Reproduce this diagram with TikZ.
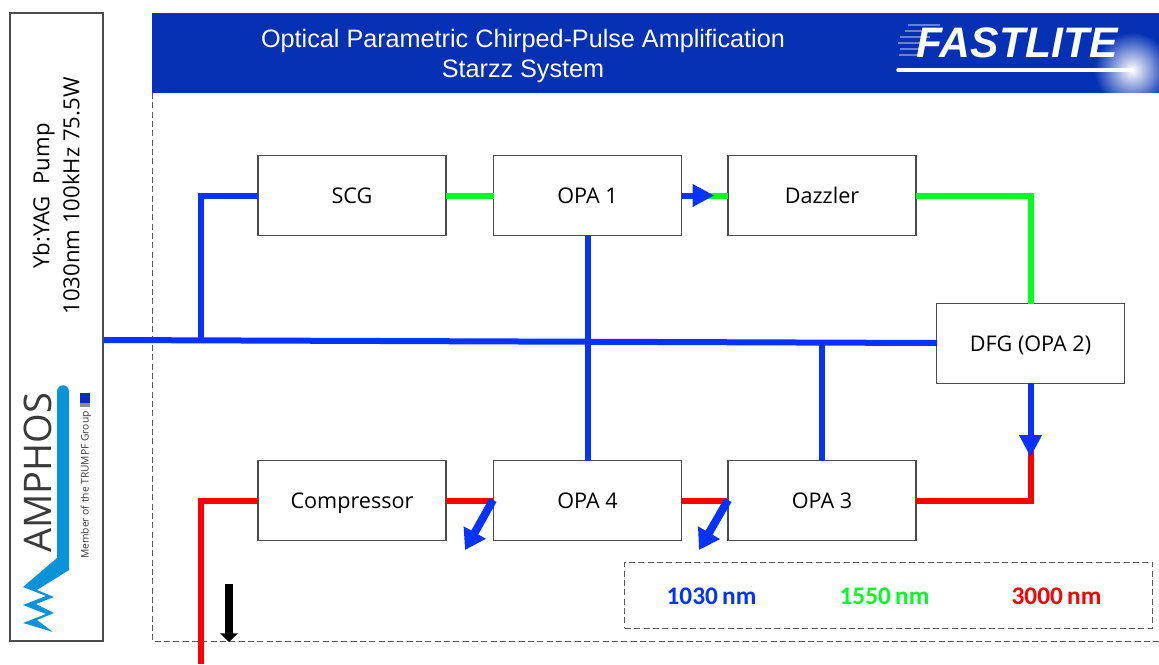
\documentclass[tikz,border=0pt]{standalone}
\usepackage{fontspec}
\setmainfont{Open Sans}
\newfontfamily\arialf{Liberation Sans}
\newfontfamily\calib{Carlito}
\usetikzlibrary{arrows.meta,calc}
\definecolor{bannerblue}{HTML}{0430B4}
\definecolor{beamblue}{HTML}{0433FF}
\definecolor{beamgreen}{HTML}{00FF21}
\definecolor{beamred}{HTML}{FF0000}
\definecolor{amphosblue}{HTML}{0A93D8}
\definecolor{amphosgray}{HTML}{3A3A3A}
\tikzset{
  x=0.75pt,y=-0.75pt,
  stage/.style={draw=black!70,line width=0.8pt,fill=white,minimum width=141pt,minimum height=59.5pt,outer sep=0pt,inner sep=0pt,text height=13pt,text depth=1.5pt,font=\fontsize{16.2pt}{19pt}\selectfont},
  beamb/.style={draw=beamblue,line width=4.5pt},
  beamg/.style={draw=beamgreen,line width=4.5pt},
  beamr/.style={draw=beamred,line width=4.5pt},
  beamarrow/.style={draw=beamblue,line width=4.5pt,-{Triangle[length=16.5pt,width=16pt]}},
  leakarrow/.style={draw=beamblue,line width=6pt,-{Triangle[length=15pt,width=18pt]}},
  framedash/.style={draw=black!65,line width=0.6pt,dash pattern=on 4.5pt off 2.5pt},
  legend/.style={font=\calib\bfseries\fontsize{19pt}{22pt}\selectfont,inner sep=0pt},
}
\begin{document}
\begin{tikzpicture}
\useasboundingbox (0,0) rectangle (1159,664);
% pump box
\node[draw=black!70,line width=0.8pt,fill=white,minimum width=69.75pt,minimum height=471pt,outer sep=0pt,inner sep=0pt] (pump) at (56.5,327) {};
\node[rotate=90,align=center,font=\fontsize{16.6pt}{22.5pt}\selectfont,inner sep=0pt] (pumptext) at (56,196) {Yb:YAG\ \ Pump\\1030nm 100kHz 75.5W};
% Amphos logo
\fill[amphosblue] (57,392) .. controls (57,383) and (69,383) .. (69,392) -- (69,570) -- (37,590) -- (54,597) -- (36,604) -- (54,613) -- (37,620) -- (53,632) -- (23,623) -- (46,614) -- (23,605) -- (46,596) -- (23,587) -- (57,558) -- cycle;
\node[rotate=90,font=\fontsize{28.5pt}{30pt}\selectfont,text=amphosgray,inner sep=0pt] (amphos) at (38,473) {AMPHOS};
\node[rotate=90,font=\fontsize{7.7pt}{8pt}\selectfont,text=amphosgray,inner sep=0pt] (trumpf) at (86,485) {Member of the TRUMPF Group};
\fill[bannerblue] (80,393) rectangle (90,403);
\fill[black!45] (80,403) rectangle (90,407);
% banner
\fill[bannerblue] (152,13) rectangle (1159,93);
\begin{scope}
\clip (1000,14) rectangle (1159,92);
\shade[inner color=white,outer color=bannerblue] (1132,70) circle (38);
\end{scope}
\node[font=\arialf\fontsize{18.9pt}{22.5pt}\selectfont,text=white,align=center,inner sep=0pt] (title) at (523,55.5) {Optical Parametric Chirped-Pulse Amplification\\Starzz System};
\foreach \ya/\xa/\xb in {25/908/940,31/905/935,37/900/930,43/898/925,49/900/920,55/899/918}{
  \draw[white,opacity=0.4,line width=1pt] (\xa,\ya) -- (\xb,\ya);
}
\node[font=\arialf\bfseries\itshape\fontsize{32pt}{36pt}\selectfont,text=white,inner sep=0pt] (fastlite) at (1017,43) {FASTLITE};
\coordinate (swooshA) at (898,70);
\coordinate (swooshB) at (1132,70);
\draw[white,line width=2.6pt,line cap=round] (swooshA) -- (swooshB);
% dashed frame
\coordinate (frameA) at (152,93);
\coordinate (frameB) at (152,641);
\coordinate (frameC) at (1159,641);
\draw[framedash] (frameA) -- (frameB) -- (frameC);
% stage anchors
\coordinate (pumpout) at (104,340);
\coordinate (dfgin) at (937,343);
\coordinate (tapA) at (201,340.4);
\coordinate (tapC) at (822,343);
\coordinate (out) at (201,664);
% boxes
\node[stage] (scg) at (352,195.5) {SCG};
\node[stage] (opa1) at (587.5,195.5) {OPA 1};
\node[stage] (dazzler) at (822,195.5) {Dazzler};
\node[stage] (dfg) at (1030.5,343.5) {DFG (OPA 2)};
\node[stage] (compressor) at (352,500.5) {Compressor};
\node[stage] (opa4) at (587.5,500.5) {OPA 4};
\node[stage] (opa3) at (822,500.5) {OPA 3};
% green
\draw[beamg] (scg.east) -- (opa1.west);
\draw[beamg] (opa1.east) -- (dazzler.west);
\draw[beamg] (dazzler.east) -- (dazzler.east -| dfg.north) -- (dfg.north);
% red
\draw[beamr] (opa3.east) -- (opa3.east -| dfg.south) -- ($(dfg.south)+(0,67)$);
\draw[beamr] (opa3.west) -- (opa4.east);
\draw[beamr] (opa4.west) -- (compressor.east);
\draw[beamr] (out) -- (out |- compressor.west) -- (compressor.west);
% blue
\draw[beamb] (pumpout) -- (dfgin);
\draw[beamb] (tapA) -- (tapA |- scg.west) -- (scg.west);
\draw[beamb] (opa1.south) -- (opa4.north);
\draw[beamb] (tapC) -- (tapC |- opa3.north);
\draw[beamarrow] (opa1.east) -- ++(33,0);
\draw[beamarrow] (dfg.south) -- ++(0,74);
\coordinate (leakA) at (493,500);
\coordinate (leakB) at (728,500);
\draw[leakarrow] (leakA) -- ++(-28,50);
\draw[leakarrow] (leakB) -- ++(-29,50);
% black arrow
\coordinate (blackA) at (229,584);
\coordinate (blackB) at (229,642);
\draw[black,line width=6.3pt,-{Triangle[length=6.5pt,width=13pt]}] (blackA) -- (blackB);
% legend
\node[framedash,minimum width=395.5pt,minimum height=49.5pt,inner sep=0pt,outer sep=0pt] (legendbox) at (888.5,595) {};
\node[legend,text=beamblue] (l1030) at (711.5,596.5) {1030\,nm};
\node[legend,text=beamgreen] (l1550) at (884.5,596.5) {1550\,nm};
\node[legend,text=beamred] (l3000) at (1056.5,596.5) {3000\,nm};
\end{tikzpicture}
\end{document}
